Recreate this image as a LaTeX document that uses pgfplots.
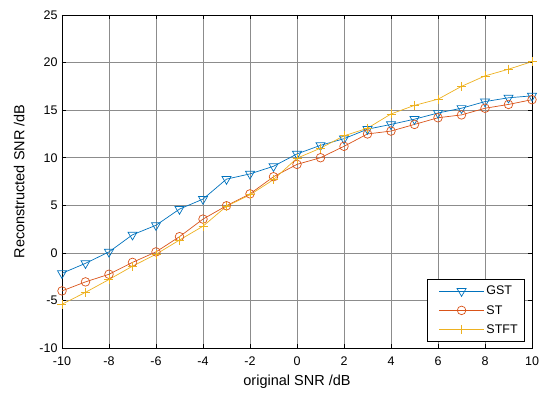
\documentclass[border=0pt]{standalone}
\usepackage{pgfplots}
\pgfplotsset{compat=1.18}
\usepackage{fontspec}
\setmainfont{Liberation Sans}
\definecolor{c1}{rgb}{0,0.447,0.741}
\definecolor{c2}{rgb}{0.85,0.325,0.098}
\definecolor{c3}{rgb}{0.929,0.694,0.125}
\begin{document}
\begin{tikzpicture}
\useasboundingbox (-62bp,-49bp) rectangle (477bp,348bp);
\begin{axis}[
  at={(0,0)}, anchor=south west,
  width=470bp, height=333bp, scale only axis,
  xmin=-10, xmax=10, ymin=-10, ymax=25,
  xtick={-10,-8,...,10}, ytick={-10,-5,...,25},
  grid=major, major grid style={black!45, line width=0.5bp},
  tick align=inside, major tick length=4bp,
  tick style={black, line width=0.6bp},
  axis line style={black, line width=0.8bp},
  ticklabel style={font=\fontsize{12.5bp}{14bp}\selectfont},
  xticklabel style={yshift=-5bp},
  yticklabel style={xshift=-1bp},
  /pgf/number format/assume math mode=true,
  xlabel={original SNR /dB}, ylabel={Reconstructed SNR /dB},
  label style={font=\fontsize{14.5bp}{16bp}\selectfont},
  xlabel style={yshift=-3bp},
  ylabel style={yshift=8bp},
  legend style={at={(0.985,0.018)}, anchor=south east, draw=black, line width=0.6bp,
    font=\fontsize{12.5bp}{14bp}\selectfont, row sep=5bp, inner xsep=5bp, inner ysep=5bp},
  legend cell align=left,
  legend image code/.code={\path (-6bp,0bp); \draw[mark repeat=2,mark phase=2,#1] plot coordinates {(0bp,0bp) (22.5bp,0bp) (45bp,0bp)};},
  every axis plot/.append style={line width=0.7bp},
]
\addplot[c1, mark=triangle, mark options={rotate=180, mark size=5.2bp, fill=none}] coordinates {
(-10,-2.15) (-9,-1.1) (-8,0.1) (-7,1.9) (-6,2.9) (-5,4.6) (-4,5.65) (-3,7.75) (-2,8.3) (-1,9.1) (0,10.4) (1,11.3) (2,12.0) (3,13.0) (4,13.5) (5,14.05) (6,14.7) (7,15.2) (8,15.9) (9,16.3) (10,16.5)};
\addlegendentry{GST}
\addplot[c2, mark=o, mark options={mark size=4.3bp}] coordinates {
(-10,-4.0) (-9,-3.05) (-8,-2.25) (-7,-1.0) (-6,0.1) (-5,1.7) (-4,3.55) (-3,4.95) (-2,6.2) (-1,8.0) (0,9.3) (1,10.0) (2,11.2) (3,12.5) (4,12.8) (5,13.5) (6,14.2) (7,14.5) (8,15.2) (9,15.6) (10,16.1)};
\addlegendentry{ST}
\addplot[c3, mark=+, mark options={mark size=4.5bp}] coordinates {
(-10,-5.4) (-9,-4.15) (-8,-2.8) (-7,-1.4) (-6,-0.15) (-5,1.35) (-4,2.8) (-3,4.9) (-2,6.1) (-1,7.7) (0,9.95) (1,11.0) (2,12.3) (3,13.1) (4,14.6) (5,15.5) (6,16.15) (7,17.5) (8,18.6) (9,19.3) (10,20.1)};
\addlegendentry{STFT}
\end{axis}
\end{tikzpicture}
\end{document}
